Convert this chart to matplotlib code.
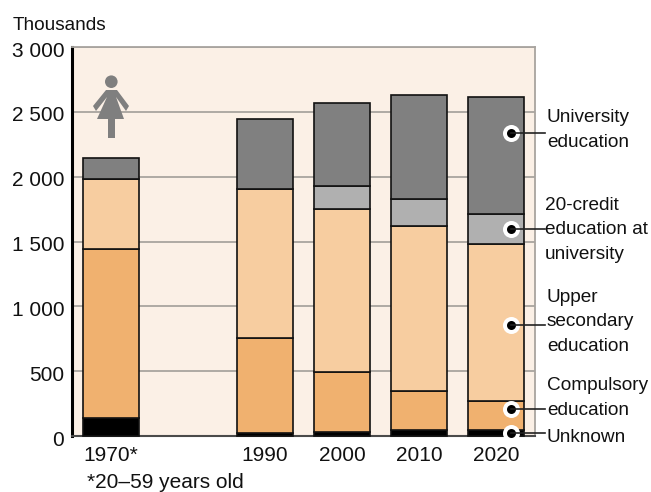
import matplotlib
matplotlib.use("Agg")
import matplotlib.pyplot as plt
from matplotlib.patches import Polygon, Ellipse
from matplotlib.transforms import ScaledTranslation
from matplotlib.lines import Line2D
import numpy as np

plt.rcParams['font.family'] = ['Liberation Sans', 'DejaVu Sans']

years = ['1970*', '1990', '2000', '2010', '2020']
positions = [0, 2, 3, 4, 5]
unknown = [139, 25, 30, 45, 50]
compulsory = [1303, 730, 463, 302, 220]
upper_secondary = [540, 1150, 1257, 1272, 1210]
credit20 = [0, 0, 178, 208, 232]
university = [161, 539, 639, 803, 902]
series = [unknown, compulsory, upper_secondary, credit20, university]
colors = ['#000000', '#F0B16F', '#F7CDA0', '#B0B0B0', '#808080']
yticks = [0, 500, 1000, 1500, 2000, 2500, 3000]
yticklabels = ['0', '500', '1 000', '1 500', '2 000', '2 500', '3 000']
callout_values = [2336, 1596, 856, 208, 23]
callout_labels = ['University\neducation', '20-credit\neducation at\nuniversity',
                  'Upper\nsecondary\neducation', 'Compulsory\neducation', 'Unknown']
label_y_px = [130, 230, 322, 398, 438]
label_x_px = [547, 545, 547, 547, 547]

W, H = 651, 492
fig = plt.figure(figsize=(W / 100, H / 100), dpi=100, facecolor='white')
ax = fig.add_axes([72 / W, 1 - 436 / H, (535 - 72) / W, (436 - 47) / H])
ax.set_facecolor('#FBF0E6')
ax.set_xlim(-0.506, 5.506)
ax.set_ylim(0, 3000)

ax.yaxis.grid(True, color='#A8A49F', lw=1.3, zorder=1)
ax.set_axisbelow(True)
bottom = np.zeros(len(positions))
for vals, col in zip(series, colors):
    v = np.array(vals, float)
    ax.bar(positions, v, width=0.727, bottom=bottom, color=col, edgecolor='#111111',
           linewidth=1.2, zorder=3, align='center', clip_on=False)
    bottom += v

ax.set_xticks(positions, years)
ax.set_yticks(yticks, yticklabels)
ax.tick_params(axis='x', length=0, pad=7.5, labelsize=15, colors='#111111')
ax.tick_params(axis='y', length=0, pad=5.5, labelsize=15, colors='#111111')
off = ScaledTranslation(0, -2 / 100, fig.dpi_scale_trans)
for t in ax.get_yticklabels():
    t.set_transform(t.get_transform() + off)
ax.spines['top'].set_color('#A8A49F'); ax.spines['top'].set_linewidth(1.3)
ax.spines['right'].set_color('#A8A49F'); ax.spines['right'].set_linewidth(1.3)
ax.spines['bottom'].set_color('#4A4A4A'); ax.spines['bottom'].set_linewidth(1.5)
ax.spines['left'].set_color('#000000'); ax.spines['left'].set_linewidth(2.2)

# callouts
tr_px = lambda x, y: (x / W, 1 - y / H)
marker_x = (511 - 111) / 77
for val, lab, ly, lx in zip(callout_values, callout_labels, label_y_px, label_x_px):
    ypx = H - ax.transData.transform((0, val))[1]
    fx0, fy0 = tr_px(511, ypx)
    fig.add_artist(Line2D([fx0, 545 / W], [fy0, fy0], color='#222222', lw=1.2, zorder=5))
    ax.scatter([marker_x], [val], s=150, color='white', zorder=6, clip_on=False, linewidths=0)
    ax.scatter([marker_x], [val], s=42, color='black', zorder=7, clip_on=False, linewidths=0)
    fig.text(lx / W, 1 - ly / H, lab, fontsize=13.7, va='center', ha='left', color='#111111',
             linespacing=1.55)

fig.text(13 / W, 1 - 25 / H, 'Thousands', fontsize=13.7, va='center', ha='left', color='#111111')
fig.text(87 / W, 1 - 483 / H, '*20–59 years old', fontsize=15, va='center', ha='left', color='#111111')

# female pictogram, in pixel coordinates
icon = '#7F7F7F'
def P(pts):
    return Polygon([tr_px(x, y) for x, y in pts], closed=True, transform=fig.transFigure,
                   facecolor=icon, edgecolor='none', zorder=4)
fig.add_artist(Ellipse(tr_px(111.3, 81.7), 12.6 / W, 12.6 / H, transform=fig.transFigure,
                       facecolor=icon, edgecolor='none', zorder=4))
fig.add_artist(P([(106, 90), (117, 90), (129, 106), (126, 111), (116, 97), (124, 119), (115, 119),
                  (115, 138), (108, 138), (108, 119), (97, 119), (107, 97), (96, 111), (93, 106)]))

fig.savefig('out.png', dpi=100)
